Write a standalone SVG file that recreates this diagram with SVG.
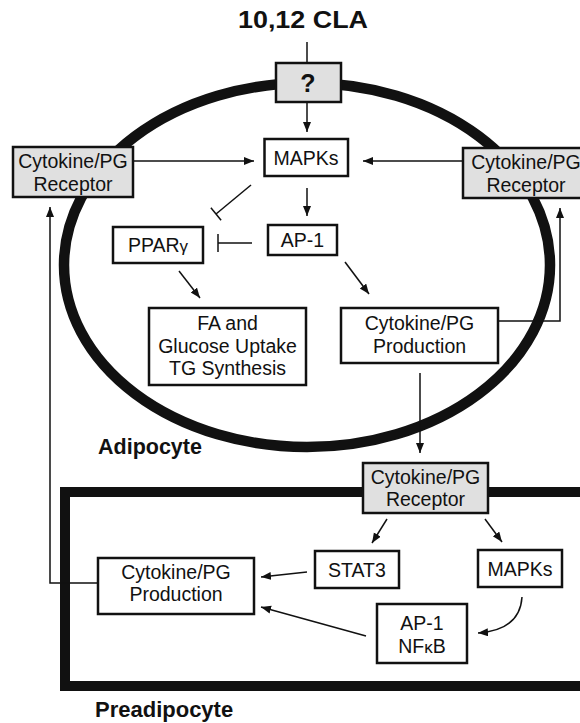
<svg xmlns="http://www.w3.org/2000/svg" width="580" height="723" viewBox="0 0 580 723">
<defs>
<style>
.t{font-family:"Liberation Sans",Arial,sans-serif;font-size:19.5px;fill:#111;text-anchor:middle}
.b{font-family:"Liberation Sans",Arial,sans-serif;font-weight:bold;fill:#111}
.box{fill:#fff;stroke:#111;stroke-width:2.5}
.gbox{fill:#e0e0e0;stroke:#111;stroke-width:2.5}
.c{fill:none;stroke:#111;stroke-width:1.5}
.a{fill:none;stroke:#111;stroke-width:1.5;marker-end:url(#ah)}
</style>
<marker id="ah" markerUnits="userSpaceOnUse" markerWidth="10" markerHeight="9" refX="10" refY="4" orient="auto">
<path d="M0,0 L10,4 L0,8 z" fill="#111"/>
</marker>
</defs>
<rect width="580" height="723" fill="#fff"/>
<g id="cells">
<ellipse cx="307" cy="265" rx="243" ry="182" fill="none" stroke="#111" stroke-width="10.5"/>
<rect x="65" y="492" width="530" height="194" fill="none" stroke="#111" stroke-width="10"/>
</g>
<text class="b" x="238" y="28" font-size="24" textLength="130" lengthAdjust="spacingAndGlyphs">10,12 CLA</text>
<text class="b" x="98" y="454" font-size="21.5">Adipocyte</text>
<text class="b" x="95" y="717" font-size="22">Preadipocyte</text>
<g id="connectors">
<line class="c" x1="307" y1="42" x2="307" y2="63"/>
<line class="a" x1="307" y1="103" x2="307" y2="132"/>
<line class="a" x1="133" y1="161" x2="254" y2="161"/>
<line class="a" x1="463" y1="161" x2="363" y2="161"/>
<line class="a" x1="307" y1="188" x2="307" y2="216"/>
<line class="c" x1="251" y1="185" x2="216" y2="214"/>
<line class="c" x1="210.9" y1="207.8" x2="221.1" y2="220.2"/>
<line class="c" x1="252" y1="243" x2="218" y2="243"/>
<line class="c" x1="218" y1="234" x2="218" y2="252"/>
<line class="a" x1="179" y1="271" x2="200" y2="298"/>
<line class="a" x1="345" y1="262" x2="369" y2="294"/>
<polyline class="a" points="498,321 560,321 560,208"/>
<line class="a" x1="420" y1="373" x2="420" y2="453"/>
<polyline class="a" points="98,583 50,583 50,207"/>
<line class="a" x1="387" y1="519" x2="372" y2="543"/>
<line class="a" x1="485" y1="519" x2="502" y2="542"/>
<line class="a" x1="307" y1="572" x2="261" y2="577"/>
<line class="a" x1="366" y1="636" x2="261" y2="607"/>
<path class="a" d="M522,597 Q520,630 478,633"/>
</g>
<g id="q">
<rect class="gbox" x="276" y="63" width="65" height="39"/>
<text class="b" x="308" y="92" font-size="25" text-anchor="middle">?</text>
</g>
<g id="mapks1">
<rect class="box" x="264.5" y="139" width="83.5" height="37"/>
<text class="t" x="306" y="165">MAPKs</text>
</g>
<g id="recL">
<rect class="gbox" x="13" y="147" width="120" height="50"/>
<text class="t" x="73" y="168">Cytokine/PG</text>
<text class="t" x="73" y="191">Receptor</text>
</g>
<g id="recR">
<rect class="gbox" x="463" y="148" width="127" height="50"/>
<text class="t" x="526" y="169">Cytokine/PG</text>
<text class="t" x="526" y="192">Receptor</text>
</g>
<g id="ap1">
<rect class="box" x="268" y="225" width="69" height="30"/>
<text class="t" x="302.5" y="247">AP-1</text>
</g>
<g id="ppar">
<rect class="box" x="113" y="227" width="90" height="36"/>
<text class="t" x="158" y="252">PPAR<tspan font-size="17">γ</tspan></text>
</g>
<g id="fa">
<rect class="box" x="149" y="308" width="157" height="77"/>
<text class="t" x="227.5" y="330">FA and</text>
<text class="t" x="227.5" y="353">Glucose Uptake</text>
<text class="t" x="227.5" y="375">TG Synthesis</text>
</g>
<g id="prodA">
<rect class="box" x="341" y="308" width="157" height="55"/>
<text class="t" x="419.5" y="330">Cytokine/PG</text>
<text class="t" x="419.5" y="353">Production</text>
</g>
<g id="recB">
<rect class="gbox" x="363" y="463" width="125" height="50"/>
<text class="t" x="425.5" y="484">Cytokine/PG</text>
<text class="t" x="425.5" y="506">Receptor</text>
</g>
<g id="stat3">
<rect class="box" x="315" y="551" width="84" height="37"/>
<text class="t" x="357" y="577">STAT3</text>
</g>
<g id="mapks2">
<rect class="box" x="478" y="550" width="84" height="37"/>
<text class="t" x="520" y="576">MAPKs</text>
</g>
<g id="prodP">
<rect class="box" x="98" y="558" width="156" height="56"/>
<text class="t" x="176" y="579">Cytokine/PG</text>
<text class="t" x="176" y="601">Production</text>
</g>
<g id="ap1nf">
<rect class="box" x="377" y="604" width="90" height="59"/>
<text class="t" x="422" y="630">AP-1</text>
<text class="t" x="422" y="653">NF<tspan font-size="17">κ</tspan>B</text>
</g>
</svg>
